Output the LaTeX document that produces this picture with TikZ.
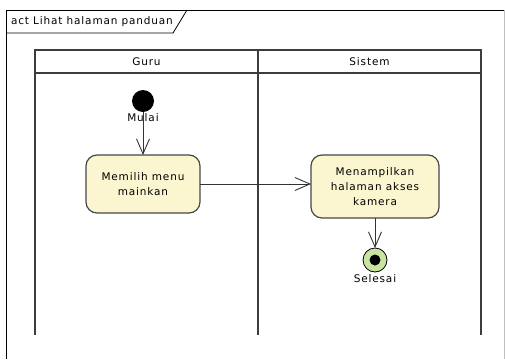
\documentclass[tikz,border=0pt]{standalone}
\usepackage{fontspec}
\setmainfont{DejaVu Sans}[LetterSpace=8]
\usetikzlibrary{positioning,arrows.meta}
\definecolor{actfill}{RGB}{251,245,208}
\definecolor{actline}{RGB}{70,70,70}
\definecolor{finalfill}{RGB}{200,228,160}
\definecolor{laneline}{RGB}{60,60,60}

\begin{document}
\begin{tikzpicture}[
        x=1pt, y=-1pt,
        node distance = 2pt,
        every node/.style = {font=\fontsize{10.5}{15}\selectfont, inner sep=0pt, outer sep=0pt},
        action/.style = {draw=actline, line width=1.2pt, fill=actfill, rounded corners=11pt, align=center, minimum width=114pt, minimum height=58pt},
        flow/.style = {draw=black!80, line width=0.9pt, -{Straight Barb[length=15pt,width=13pt]}},
        lane/.style = {draw=laneline, line width=1.4pt}
    ]
    \useasboundingbox (0,0) rectangle (505,359);
%
    \draw[line width=0.8pt] (6,359) -- (6,10) -- (504,10);
    \draw[line width=0.8pt, black!25] (504,10) -- (504,359);
    \draw[line width=0.8pt] (6,33) -- (173,33) -- (187,10);
    \node[anchor=west] (frm) at (11,22) {act Lihat halaman panduan};
%
    \draw[lane] (35,335) -- (35,50) -- (481,50) -- (481,335);
    \draw[lane] (258,50) -- (258,335);
    \draw[lane] (35,73) -- (481,73);
    \node (guru)   at (146.5,62) {Guru};
    \node (sistem) at (369.5,62) {Sistem};
%
    \node[circle, fill=black, minimum size=22pt] (initial) at (143,101) {};
    \node (mulai) [below=2pt of initial] {Mulai};
    \node[action] (act1) at (143,184) {Memilih menu\\mainkan};
    \node[action, minimum width=128pt, minimum height=63pt] (act2) at (375,186.5) {Menampilkan\\halaman akses\\kamera};
    \node[circle, draw=black, line width=0.8pt, fill=finalfill, minimum size=24pt] (final) at (375,260) {};
    \node[circle, fill=black, minimum size=11pt] (finaldot) at (final) {};
    \node (selesai) [below=3pt of final] {Selesai};
%
    \draw[flow] (initial) -- (act1);
    \draw[flow] (act1.east) -- (act1.east -| act2.west);
    \draw[flow] (act2.south) -- (final);
\end{tikzpicture}
\end{document}
